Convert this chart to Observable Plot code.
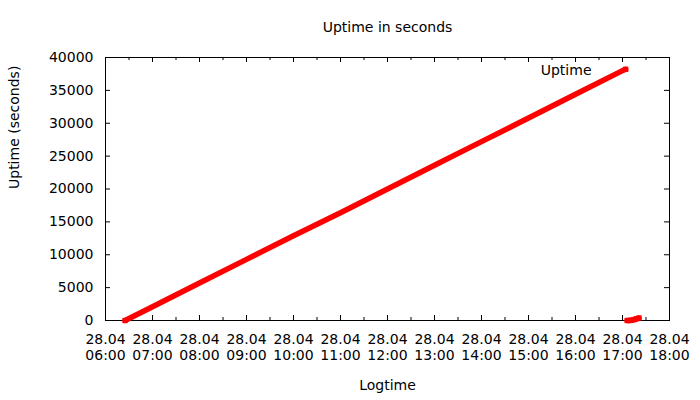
<!DOCTYPE html>
<html>
<head>
<meta charset="utf-8">
<script src="https://cdn.jsdelivr.net/npm/d3@7"></script>
<script src="https://cdn.jsdelivr.net/npm/@observablehq/plot@0.6"></script>
<style>
  html, body { margin: 0; padding: 0; background: #fff; }
  #chart { width: 700px; height: 400px; }
</style>
</head>
<body>
<div id="chart"></div>
<script>
// ---- data ----
const dateStr = "2013-04-28";
const run1Times = ["06:25", "07:00", "08:00", "09:00", "10:00", "11:00", "12:00", "13:00", "14:00", "15:00", "16:00", "17:00", "17:04"];
const run1Values = [0, 2100, 5700, 9300, 12900, 16400, 20000, 23600, 27200, 30800, 34400, 38000, 38200];
const run2Times = ["17:06", "17:09", "17:12", "17:15", "17:18", "17:21"];
const run2Values = [0, 0, 60, 150, 260, 380];
const xMajorTicks = ["06:00", "07:00", "08:00", "09:00", "10:00", "11:00", "12:00", "13:00", "14:00", "15:00", "16:00", "17:00", "18:00"];
const xMinorTicks = ["06:30", "07:30", "08:30", "09:30", "10:30", "11:30", "12:30", "13:30", "14:30", "15:30", "16:30", "17:30"];
const yTicks = [0, 5000, 10000, 15000, 20000, 25000, 30000, 35000, 40000];
const titleText = "Uptime in seconds";
const xLabel = "Logtime";
const yLabel = "Uptime (seconds)";
const seriesName = "Uptime";

const t = (hm) => new Date(dateStr + "T" + hm + ":00Z");
const data = [
  ...run1Times.map((h, i) => ({time: t(h), uptime: run1Values[i], run: 1})),
  ...run2Times.map((h, i) => ({time: t(h), uptime: run2Values[i], run: 2}))
];
const majors = xMajorTicks.map(t);
const minors = xMinorTicks.map(t);
const frameH = 400 - 57 - 80;
const frameW = 700 - 105 - 31;
const fmt = d3.utcFormat("%d.%m\n%H:%M");

const chart = Plot.plot({
  width: 700,
  height: 400,
  marginLeft: 105,
  marginRight: 31,
  marginTop: 57,
  marginBottom: 80,
  style: {fontFamily: "DejaVu Sans", fontSize: "14px", background: "#fff", color: "#000", overflow: "visible"},
  x: {type: "utc", domain: [majors[0], majors[majors.length - 1]]},
  y: {domain: [0, 40000]},
  marks: [
    Plot.frame({stroke: "#000", strokeWidth: 1}),
    // inward ticks (bottom, top)
    Plot.tickX(majors, {x: d => d, insetTop: frameH - 5, stroke: "#000"}),
    Plot.tickX(majors, {x: d => d, insetBottom: frameH - 5, stroke: "#000"}),
    Plot.tickX(minors, {x: d => d, insetTop: frameH - 3, stroke: "#000"}),
    Plot.tickX(minors, {x: d => d, insetBottom: frameH - 3, stroke: "#000"}),
    // inward ticks (left, right)
    Plot.tickY(yTicks, {y: d => d, insetRight: frameW - 5, stroke: "#000"}),
    Plot.tickY(yTicks, {y: d => d, insetLeft: frameW - 5, stroke: "#000"}),
    Plot.axisX({ticks: majors, tickSize: 0, tickPadding: 12, tickFormat: fmt, label: null, lineHeight: 1.15, fontSize: 14}),
    Plot.axisY({ticks: yTicks, tickSize: 0, tickPadding: 12, tickFormat: d3.format("d"), label: null, fontSize: 14}),
    Plot.line(data, {x: "time", y: "uptime", z: "run", stroke: "#ff0000", strokeWidth: 5.5}),
    Plot.dot(data.filter((d, i, a) => i === 0 || i === a.length - 1 || d.run === 2 || (i > 0 && a[i - 1].run !== d.run) || (i < a.length - 1 && a[i + 1].run !== d.run)),
      {x: "time", y: "uptime", symbol: "square", r: 3, fill: "#ff0000"}),
    Plot.text([titleText], {text: d => d, frameAnchor: "top", dy: -35, fontSize: 14}),
    Plot.text([xLabel], {text: d => d, frameAnchor: "bottom", dy: 69, fontSize: 14}),
    Plot.text([yLabel], {text: d => d, frameAnchor: "left", dx: -91, rotate: -90, fontSize: 14}),
    Plot.text([seriesName], {text: d => d, frameAnchor: "top-right", textAnchor: "end", dx: -78, dy: 8, fontSize: 14})
  ]
});
document.getElementById("chart").appendChild(chart);
</script>
</body>
</html>
